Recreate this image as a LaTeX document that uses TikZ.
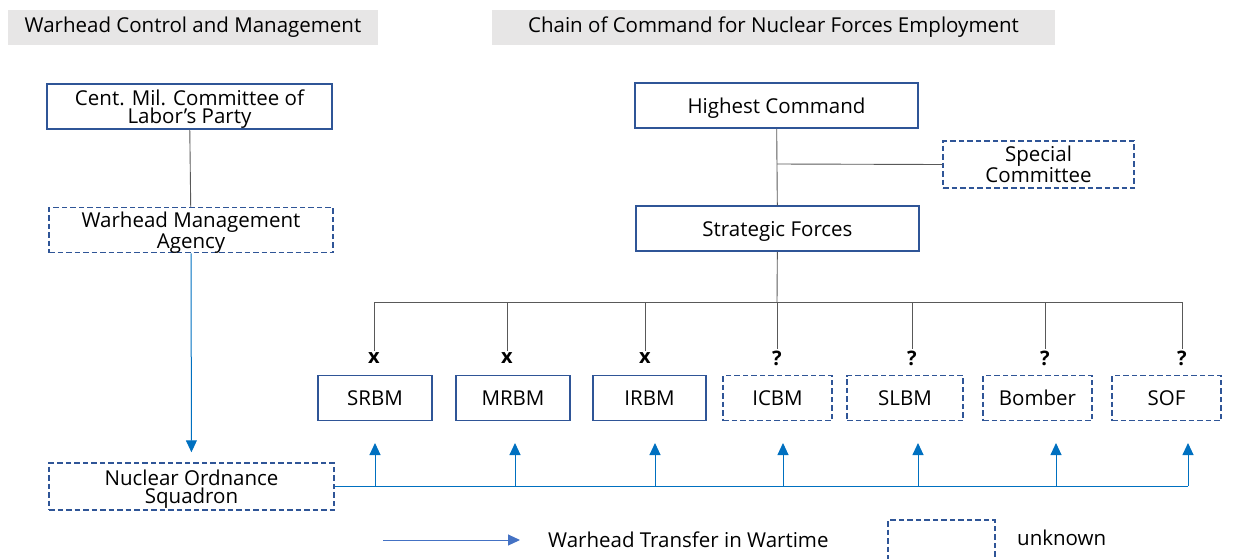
\documentclass[tikz,border=0pt]{standalone}
\usepackage{fontspec}
\setmainfont{Open Sans}
\usetikzlibrary{arrows.meta}
\definecolor{boxblue}{RGB}{47,85,151}
\definecolor{arrowblue}{RGB}{0,112,192}
\definecolor{legendblue}{RGB}{68,114,196}
\definecolor{headgray}{RGB}{231,230,230}
\tikzset{
  known/.style={draw=boxblue, line width=1.5pt, minimum height=45, inner sep=0pt, text depth=0pt, align=center},
  unknown/.style={known, dash pattern=on 5.5pt off 3pt},
  header/.style={fill=headgray, minimum height=35, inner sep=0pt},
  link/.style={draw=black!65, line width=0.9pt},
  transfer/.style={draw=arrowblue, line width=1pt, -{Triangle[width=11pt,length=12pt]}},
  markbox/.style={font=\fontsize{20}{20}\selectfont\bfseries, inner sep=1pt}
}
\begin{document}
\begin{tikzpicture}[x=1pt,y=-1pt,font=\fontsize{20.5}{18.5}\selectfont]
  \useasboundingbox (0,0) rectangle (1242,558);
  \node[header, minimum width=370] (hleft) at (193,27.5) {Warhead Control and Management};
  \node[header, minimum width=563] (hright) at (773.5,27.5) {Chain of Command for Nuclear Forces Employment};

  \node[known, minimum width=285] (cmc) at (189.5,106.5) {Cent. Mil. Committee of\\Labor’s Party};
  \node[unknown, minimum width=284] (wma) at (191,230) {Warhead Management\\Agency};
  \node[unknown, minimum width=285, minimum height=47] (nos) at (191.5,486.5) {Nuclear Ordnance\\Squadron};
  \draw[link] (cmc) -- (wma);
  \draw[transfer, shorten >=10pt] (wma) -- (nos);

  \node[known, minimum width=283] (hc) at (776.5,105.5) {Highest Command};
  \node[unknown, minimum width=191, minimum height=47] (spc) at (1038.5,164.5) {Special\\Committee};
  \node[known, minimum width=283] (sf) at (777.5,228.5) {Strategic Forces};
  \coordinate (mid) at (777,164);
  \coordinate (bus) at (777,302);
  \draw[link] (hc) -- (sf);
  \draw[link] (mid) -- (spc.west);
  \draw[link] (sf) -- (bus);

  \foreach \n/\t/\cx/\w/\dx/\ax/\m/\s in {
      srbm/SRBM/375/114/374/375/x/known,
      mrbm/MRBM/513/114/507/515/x/known,
      irbm/IRBM/649.5/113/645/655/x/known,
      icbm/ICBM/777.5/109/777/783/?/unknown,
      slbm/SLBM/905/116/912/918/?/unknown,
      bomber/Bomber/1037.5/109/1045/1056/?/unknown,
      sof/SOF/1166.5/109/1182/1188/?/unknown}{
    \node[\s, minimum width=\w] (\n) at (\cx,398) {\t};
    \coordinate (\n-top) at (\dx,302);
    \node[markbox] (\n-mark) at (\dx,358) {\m};
    \draw[link] (\n-top) -- (\n-mark.north);
    \coordinate (\n-feed) at (\ax,486);
    \coordinate (\n-in) at (\ax,443);
    \draw[transfer] (\n-feed) -- (\n-in);
  }
  \draw[link] (srbm-top) -- (sof-top);
  \draw[draw=arrowblue, line width=1pt] (nos.east |- sof-feed) -- (sof-feed);

  \coordinate (leg-a) at (383,540);
  \coordinate (leg-b) at (520,540);
  \draw[transfer, draw=legendblue, fill=legendblue] (leg-a) -- (leg-b);
  \node[anchor=west, inner sep=0pt] (leg-t) at (548,540) {Warhead Transfer in Wartime};
  \node[unknown, minimum width=107, minimum height=40] (leg-box) at (941.5,540) {};
  \node[anchor=west, inner sep=0pt] (leg-u) at (1017,538) {unknown};
\end{tikzpicture}
\end{document}
